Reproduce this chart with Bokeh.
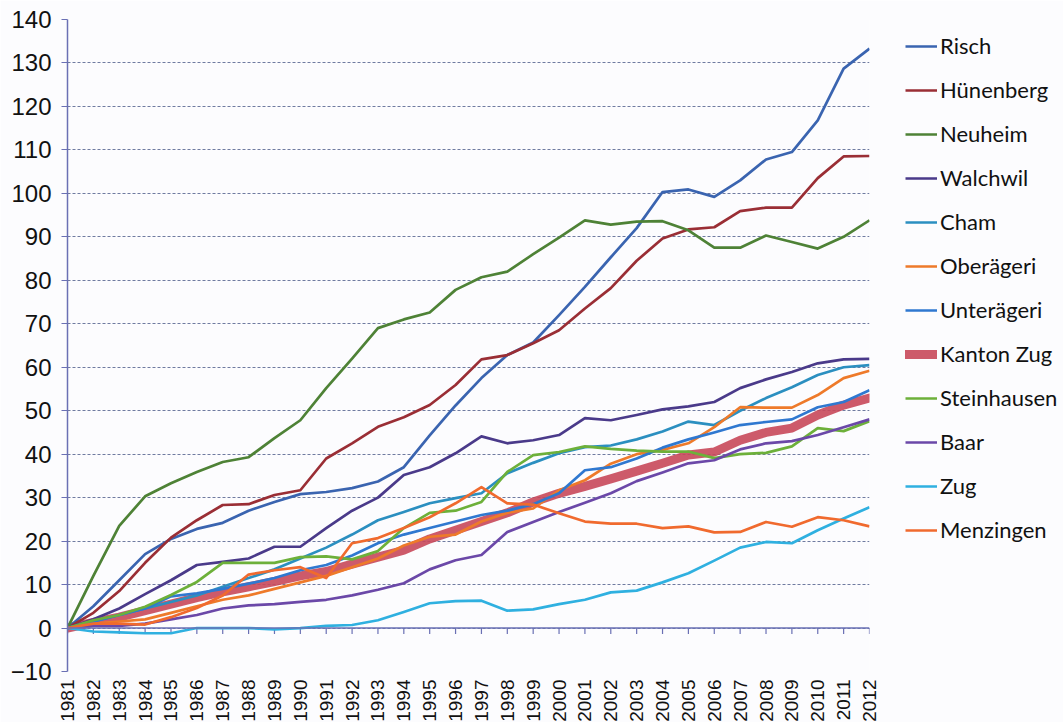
import math
from bokeh.plotting import figure
from bokeh.models import Range1d, FixedTicker, Legend, LegendItem, Span
from bokeh.embed import file_html
from bokeh.resources import INLINE

years = list(range(1981, 2013))

risch = [0, 5, 11, 17, 20.5, 22.8, 24.2, 27, 29, 30.8, 31.3, 32.2, 33.7, 37, 44.3, 51.2,
         57.5, 62.8, 65.7, 72, 78.5, 85.3, 92, 100.3, 100.9, 99.2, 103, 107.8, 109.5, 116.8, 128.7, 133.3]
huenenberg = [0, 3.5, 8.5, 15, 20.8, 24.8, 28.3, 28.5, 30.6, 31.7, 39, 42.5, 46.3, 48.5, 51.3, 55.9,
              61.8, 62.8, 65.5, 68.5, 73.5, 78.2, 84.5, 89.6, 91.7, 92.2, 95.9, 96.7, 96.7, 103.5, 108.5, 108.6]
neuheim = [0, 12, 23.5, 30.3, 33.3, 35.9, 38.2, 39.3, 43.7, 47.8, 55.2, 62, 69, 71, 72.6, 77.8,
           80.7, 82, 86, 89.8, 93.8, 92.8, 93.5, 93.6, 91.5, 87.5, 87.5, 90.3, 88.8, 87.3, 90, 93.8]
walchwil = [0, 2, 4.5, 7.8, 11, 14.5, 15.2, 16, 18.7, 18.7, 23, 27, 30, 35.2, 37, 40.2,
            44.1, 42.5, 43.2, 44.4, 48.3, 47.8, 49, 50.3, 51, 52, 55.2, 57.2, 58.9, 60.9, 61.8, 61.9]
cham = [0, 1.5, 3, 4.5, 6, 7.5, 9.5, 11.5, 13.5, 16, 18.5, 21.5, 24.8, 26.7, 28.7, 29.9,
        31, 35.6, 38, 40.2, 41.6, 42, 43.4, 45.2, 47.5, 46.7, 50, 52.9, 55.4, 58.2, 60, 60.5]
oberaegeri = [0, 1, 1.5, 2, 3.5, 5, 6.5, 7.5, 9, 10.5, 12, 14, 16, 19, 21, 21.5,
              24.5, 26.5, 27.5, 31.7, 34, 37.8, 40, 41, 42.5, 46.2, 50.8, 50.7, 50.7, 53.6, 57.5, 59.2]
unteraegeri = [0, 1.5, 3, 4.5, 7.3, 8, 9, 10.2, 11.5, 13.3, 14.5, 16.7, 19.5, 21.5, 23, 24.5,
               26, 27, 28.5, 31, 36.3, 37, 39, 41.5, 43.4, 45, 46.7, 47.4, 48, 50.8, 52, 54.7]
kanton_zug = [0, 1.3, 2.5, 4, 5.5, 7, 8.3, 9.5, 10.7, 12, 13, 14.7, 16.3, 17.9, 20.5, 22.5,
              24.5, 26.5, 29, 31, 32.6, 34.3, 36.1, 37.9, 39.8, 40.5, 43.2, 45, 46, 49, 51.3, 52.9]
steinhausen = [0, 1.8, 3, 4.9, 7.6, 10.6, 15, 15, 15, 16.3, 16.5, 15.8, 17.7, 23, 26.5, 27,
               29, 35.9, 39.8, 40.5, 41.8, 41.2, 40.8, 40.6, 40.6, 39.1, 40, 40.3, 41.8, 46, 45.3, 47.6]
baar = [0, 0.5, 0.5, 1, 2, 3, 4.5, 5.2, 5.5, 6, 6.5, 7.5, 8.8, 10.3, 13.5, 15.6,
        16.8, 22.1, 24.4, 26.7, 28.8, 31, 33.8, 35.8, 37.9, 38.6, 41.1, 42.5, 43, 44.4, 46.2, 48]
zug = [0, -0.8, -1, -1.2, -1.2, 0, 0, 0, -0.3, 0, 0.5, 0.7, 1.8, 3.7, 5.7, 6.2,
       6.3, 4, 4.3, 5.5, 6.5, 8.2, 8.6, 10.5, 12.6, 15.5, 18.5, 19.8, 19.5, 22.5, 25.2, 27.8]
menzingen = [0, 1, 1, 0.8, 2.5, 4.6, 7.5, 12.3, 13.3, 14, 11.5, 19.5, 20.7, 23, 25.5, 28.7,
             32.4, 28.7, 28.4, 26.4, 24.5, 24, 24, 23, 23.4, 22, 22.1, 24.4, 23.3, 25.5, 24.8, 23.4]

names = ["Risch", "Hünenberg", "Neuheim", "Walchwil", "Cham", "Oberägeri", "Unterägeri",
         "Kanton Zug", "Steinhausen", "Baar", "Zug", "Menzingen"]
series = [risch, huenenberg, neuheim, walchwil, cham, oberaegeri, unteraegeri,
          kanton_zug, steinhausen, baar, zug, menzingen]
colors = ["#3a64b0", "#9a2e35", "#4e8236", "#4a3a8a", "#2b8fc0", "#ee7a2a", "#2f78d0",
          "#c8485a", "#6db03a", "#6b48a8", "#2fb0e0", "#f06a2e"]

y_ticks = list(range(-10, 141, 10))
axis_color = "#6a70b4"

p = figure(frame_width=802, frame_height=652,
           x_range=Range1d(1981, 2012), y_range=Range1d(-10, 140),
           output_backend="svg", toolbar_location=None,
           min_border_left=67, min_border_top=19, min_border_right=0, min_border_bottom=0,
           background_fill_color="#fcfcfe", border_fill_color="#fcfcfe",
           outline_line_color=None)

# y axis
p.yaxis.ticker = FixedTicker(ticks=y_ticks)
p.yaxis.axis_line_color = axis_color
p.yaxis.axis_line_width = 1.5
p.yaxis.major_tick_line_color = axis_color
p.yaxis.major_tick_out = 6
p.yaxis.major_tick_in = 0
p.yaxis.minor_tick_line_color = None
p.yaxis.major_label_text_font = "Liberation Sans"
p.yaxis.major_label_text_font_size = "24px"
p.yaxis.major_label_text_color = "#111111"
p.yaxis.major_label_standoff = 10

p.ygrid.ticker = FixedTicker(ticks=y_ticks)
p.ygrid.grid_line_color = "#56648f"
p.ygrid.grid_line_dash = "3 2"
p.ygrid.grid_line_width = 1
p.ygrid.grid_line_alpha = 0.85
p.xgrid.visible = False

# bottom year labels
p.xaxis.ticker = FixedTicker(ticks=years)
p.xaxis.major_label_orientation = math.pi / 2
p.xaxis.axis_line_color = None
p.xaxis.major_tick_line_color = None
p.xaxis.minor_tick_line_color = None
p.xaxis.major_label_standoff = 2
p.xaxis.major_label_text_font = "Liberation Sans"
p.xaxis.major_label_text_font_size = "19px"
p.xaxis.major_label_text_color = "#111111"

# category axis line at zero with downward tick marks
p.add_layout(Span(location=0, dimension="width", line_color=axis_color, line_width=1.5))
p.ray(x=years, y=[0] * len(years), length=6, length_units="screen", angle=-math.pi / 2,
      line_color=axis_color, line_width=1.2)

renderers = {}
order = [7] + [i for i in range(len(names)) if i != 7]
for i in order:
    if names[i] == "Kanton Zug":
        r = p.line(years, series[i], line_color=colors[i], line_width=9, line_alpha=0.9,
                   line_cap="round", line_join="round")
    else:
        r = p.line(years, series[i], line_color=colors[i], line_width=2.7, line_join="round")
    renderers[i] = r

items = [LegendItem(label=names[i], renderers=[renderers[i]]) for i in range(len(names))]
legend = Legend(items=items, location=(36, 128), orientation="vertical",
                border_line_color=None, background_fill_alpha=0,
                label_text_font="Lato", label_text_font_size="22px", label_text_color="#111111",
                glyph_width=32, glyph_height=20, label_height=20, label_standoff=3,
                spacing=17, padding=0, margin=0)
p.add_layout(legend, "right")

open("out.html", "w").write(file_html(p, INLINE))
